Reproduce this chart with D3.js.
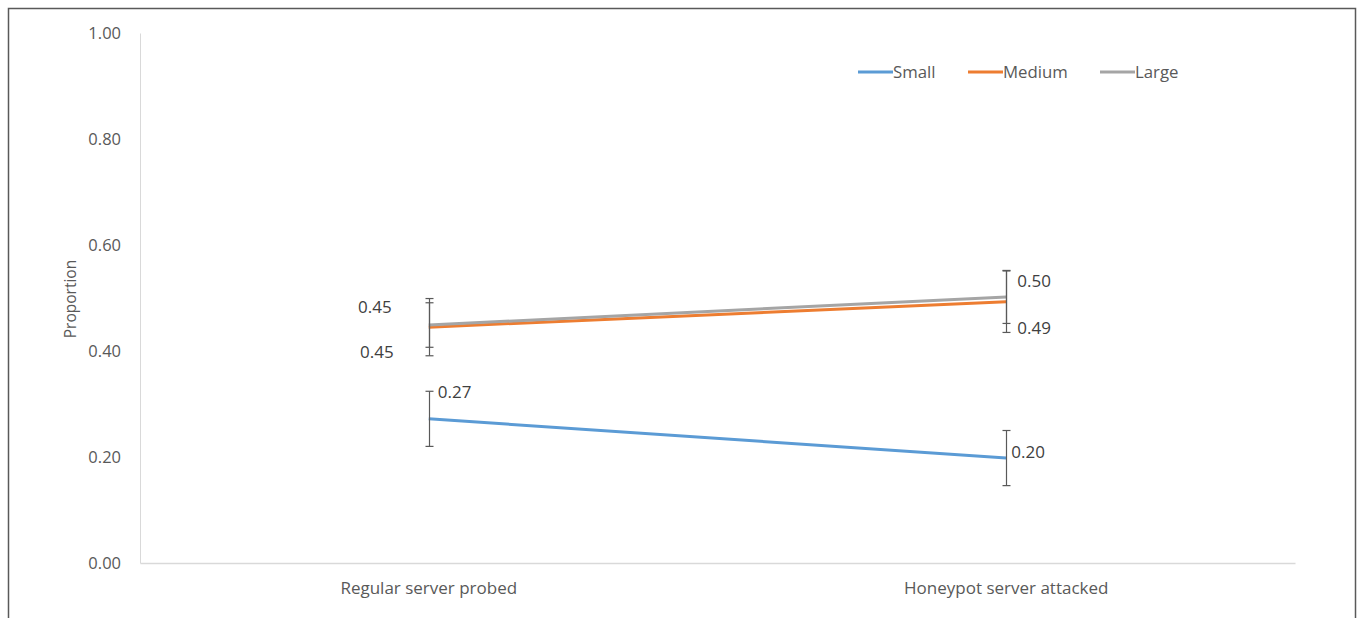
<!DOCTYPE html>
<html>
<head>
<meta charset="utf-8">
<script src="https://cdn.jsdelivr.net/npm/d3@7"></script>
<style>
  html, body { margin: 0; padding: 0; background: #fff; }
  svg { display: block; font-family: "Open Sans", "Noto Sans", sans-serif; }
</style>
</head>
<body>
<svg id="chart" width="1357" height="618"></svg>
<script>
// Categories along the x axis
const categories = ["Regular server probed", "Honeypot server attacked"];

// Series names and colours
const seriesNames = ["Small", "Medium", "Large"];
const seriesColors = ["#5B9BD5", "#ED7D31", "#A5A5A5"];

// Proportions per series, one value per category
const smallValues  = [0.272, 0.198];
const mediumValues = [0.445, 0.493];
const largeValues  = [0.449, 0.502];

// Error margins (±) per series, one per category
const smallErrors  = [0.052, 0.052];
const mediumErrors = [0.054, 0.058];
const largeErrors  = [0.042, 0.050];

// Data labels shown next to each point
const smallLabels  = ["0.27", "0.20"];
const mediumLabels = ["0.45", "0.49"];
const largeLabels  = ["0.45", "0.50"];

// Y axis ticks
const yTicks = [0, 0.2, 0.4, 0.6, 0.8, 1.0];
const yTitle = "Proportion";

const series = [
  { name: seriesNames[0], color: seriesColors[0], values: smallValues,  errors: smallErrors,  labels: smallLabels },
  { name: seriesNames[1], color: seriesColors[1], values: mediumValues, errors: mediumErrors, labels: mediumLabels },
  { name: seriesNames[2], color: seriesColors[2], values: largeValues,  errors: largeErrors,  labels: largeLabels }
];

const svg = d3.select("#chart");
const W = 1357, H = 618;

// Outer frame
svg.append("rect")
  .attr("x", 8.5).attr("y", 8.5)
  .attr("width", W - 10).attr("height", H + 10)
  .attr("fill", "#fff").attr("stroke", "#595959").attr("stroke-width", 1.5);

const plot = { left: 140, right: 1295, top: 33, bottom: 563 };

const x = d3.scaleBand().domain(categories).range([plot.left, plot.right]);
const y = d3.scaleLinear().domain([0, 1]).range([plot.bottom, plot.top]);
const cx = c => x(c) + x.bandwidth() / 2;

const textColor = "#595959";
const fontFamily = "Open Sans, Noto Sans, sans-serif";

// Y axis
const yAxis = svg.append("g")
  .attr("transform", `translate(${plot.left},0)`)
  .call(d3.axisLeft(y).tickValues(yTicks).tickFormat(d3.format(".2f")).tickSize(0).tickPadding(19));
yAxis.select(".domain").attr("stroke", "#d9d9d9").attr("stroke-width", 1);
yAxis.selectAll("text").attr("fill", textColor).attr("font-size", 16.5).attr("font-family", fontFamily);

// X axis
const xAxis = svg.append("g")
  .attr("transform", `translate(0,${plot.bottom})`)
  .call(d3.axisBottom(x).tickSize(0).tickPadding(19));
xAxis.select(".domain").attr("stroke", "#d9d9d9").attr("stroke-width", 1.5);
xAxis.selectAll("text").attr("fill", textColor).attr("font-size", 17).attr("font-family", fontFamily);

// Y axis title
svg.append("text")
  .attr("transform", `translate(76,${(260 + 338) / 2}) rotate(-90)`)
  .attr("text-anchor", "middle")
  .attr("fill", textColor)
  .attr("font-size", 15.5)
  .text(yTitle);

// Lines
const line = d3.line().x(d => cx(d.cat)).y(d => y(d.v));
series.forEach(s => {
  const pts = categories.map((c, i) => ({ cat: c, v: s.values[i] }));
  svg.append("path")
    .datum(pts)
    .attr("d", line)
    .attr("fill", "none")
    .attr("stroke", s.color)
    .attr("stroke-width", 3);
});

// Error bars
const capW = 4;
series.forEach(s => {
  categories.forEach((c, i) => {
    const xx = Math.round(cx(c)) + 0.5;
    const y1 = y(s.values[i] + s.errors[i]);
    const y2 = y(s.values[i] - s.errors[i]);
    const g = svg.append("g").attr("stroke", "#595959").attr("stroke-width", 1.2);
    g.append("line").attr("x1", xx).attr("x2", xx).attr("y1", y1).attr("y2", y2);
    g.append("line").attr("x1", xx - capW).attr("x2", xx + capW).attr("y1", y1).attr("y2", y1);
    g.append("line").attr("x1", xx - capW).attr("x2", xx + capW).attr("y1", y2).attr("y2", y2);
  });
});

// Data labels: placement offsets per series and category
const labelPlacement = {
  Small:  [{ dx: 9, dy: -27, anchor: "start" },  { dx: 5, dy: -6, anchor: "start" }],
  Medium: [{ dx: -35, dy: 25, anchor: "end" },   { dx: 11, dy: 26, anchor: "start" }],
  Large:  [{ dx: -37, dy: -18, anchor: "end" },  { dx: 11, dy: -16, anchor: "start" }]
};
series.forEach(s => {
  categories.forEach((c, i) => {
    const p = labelPlacement[s.name][i];
    svg.append("text")
      .attr("x", cx(c) + p.dx)
      .attr("y", y(s.values[i]) + p.dy)
      .attr("dy", "0.35em")
      .attr("text-anchor", p.anchor)
      .attr("fill", "#404040")
      .attr("font-size", 17)
      .text(s.labels[i]);
  });
});

// Legend
const legendX = [858, 968, 1100];
const legend = svg.append("g");
series.forEach((s, i) => {
  const g = legend.append("g").attr("transform", `translate(${legendX[i]},72)`);
  g.append("line").attr("x1", 0).attr("x2", 35).attr("y1", 0).attr("y2", 0)
    .attr("stroke", s.color).attr("stroke-width", 3);
  g.append("text").attr("x", 35).attr("y", 0).attr("dy", "0.35em")
    .attr("fill", textColor).attr("font-size", 16.8).text(s.name);
});
</script>
</body>
</html>
